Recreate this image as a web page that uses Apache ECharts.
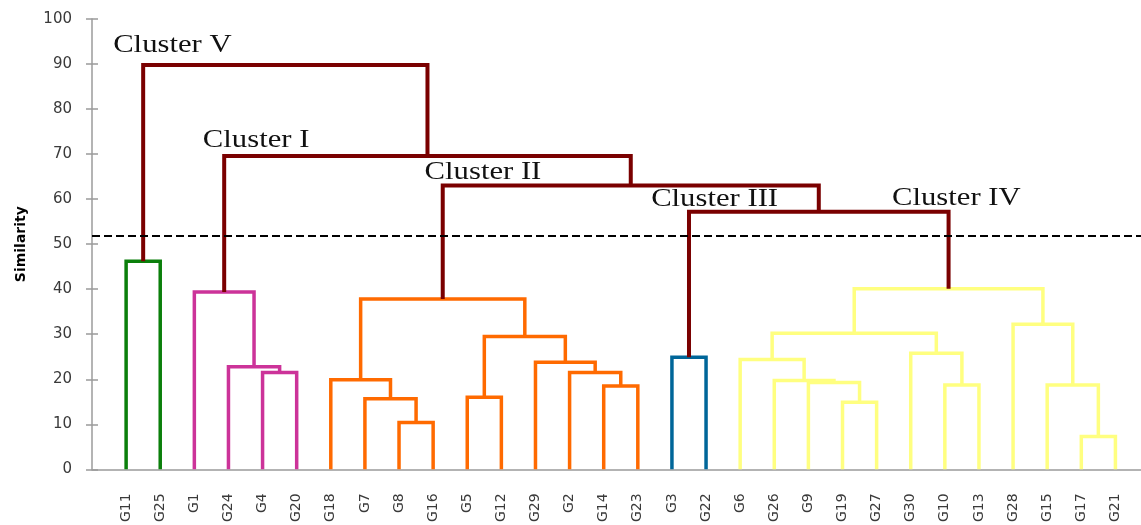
<!DOCTYPE html>
<html>
<head>
<meta charset="utf-8">
<script src="https://cdn.jsdelivr.net/npm/echarts@6/dist/echarts.min.js"></script>
<style>
  html, body { margin: 0; padding: 0; background: #fff; }
  #chart { width: 1141px; height: 525px; }
</style>
</head>
<body>
<div id="chart"></div>
<script>
// Leaf order along the x axis
const leaves = ['G11','G25','G1','G24','G4','G20','G18','G7','G8','G16','G5','G12','G29','G2','G14','G23',
                'G3','G22','G6','G26','G9','G19','G27','G30','G10','G13','G28','G15','G17','G21'];

// Merge steps: [id, left child, right child, similarity, group]
const greenMerges = [
  ['m1', 'G11', 'G25', 46.2, 'green']
];
const magentaMerges = [
  ['m2', 'G4', 'G20', 21.5, 'magenta'],
  ['m3', 'G24', 'm2', 22.8, 'magenta'],
  ['m4', 'G1', 'm3', 39.4, 'magenta']
];
const orangeMerges = [
  ['m5', 'G8', 'G16', 10.4, 'orange'],
  ['m6', 'G7', 'm5', 15.7, 'orange'],
  ['m7', 'G18', 'm6', 19.9, 'orange'],
  ['m8', 'G5', 'G12', 16.0, 'orange'],
  ['m9', 'G14', 'G23', 18.5, 'orange'],
  ['m10', 'G2', 'm9', 21.5, 'orange'],
  ['m11', 'G29', 'm10', 23.8, 'orange'],
  ['m12', 'm8', 'm11', 29.5, 'orange'],
  ['m13', 'm7', 'm12', 37.8, 'orange']
];
const blueMerges = [
  ['m14', 'G3', 'G22', 24.9, 'blue']
];
const yellowMerges = [
  ['m15', 'G19', 'G27', 14.9, 'yellow'],
  ['m16', 'G9', 'm15', 19.3, 'yellow'],
  ['m17', 'G26', 'm16', 19.7, 'yellow'],
  ['m18', 'G6', 'm17', 24.4, 'yellow'],
  ['m19', 'G10', 'G13', 18.7, 'yellow'],
  ['m20', 'G30', 'm19', 25.8, 'yellow'],
  ['m21', 'm18', 'm20', 30.2, 'yellow'],
  ['m22', 'G17', 'G21', 7.3, 'yellow'],
  ['m23', 'G15', 'm22', 18.7, 'yellow'],
  ['m24', 'G28', 'm23', 32.2, 'yellow'],
  ['m25', 'm21', 'm24', 40.1, 'yellow']
];
const topMerges = [
  ['m26', 'm14', 'm25', 57.2, 'top'],
  ['m27', 'm13', 'm26', 63.0, 'top'],
  ['m28', 'm4', 'm27', 69.6, 'top'],
  ['m29', 'm1', 'm28', 89.8, 'top']
];

// Similarity cut-off line
const cutOff = 51.8;

// Cluster captions: [text, leaf position of left edge, similarity at baseline]
const clusterLabels = [
  ['Cluster V', -0.38, 92.3],
  ['Cluster I', 2.25, 71.1],
  ['Cluster II', 8.75, 64.0],
  ['Cluster III', 15.39, 58.1],
  ['Cluster IV', 22.45, 58.4]
];

const yTicks = [0, 100, 10]; // min, max, step

const groupColors = {
  green: '#0b7f0b',
  magenta: '#cc3399',
  orange: '#ff6a00',
  blue: '#006699',
  yellow: '#ffff80',
  top: '#7a0000'
};

// Build link geometry from the merge list
const allMerges = [].concat(greenMerges, magentaMerges, orangeMerges, blueMerges, yellowMerges, topMerges);
const pos = {}, height = {};
leaves.forEach((name, i) => { pos[name] = i; height[name] = 0; });
const links = [];
allMerges.forEach(([id, a, b, h, g]) => {
  pos[id] = (pos[a] + pos[b]) / 2;
  height[id] = h;
  links.push({ value: [pos[a], height[a], pos[b], height[b], h], group: g });
});

const axisGray = '#9b9b9b';
const chart = echarts.init(document.getElementById('chart'));

chart.setOption({
  animation: false,
  backgroundColor: '#fff',
  grid: { left: 92, right: 0, top: 19, bottom: 54 },
  xAxis: {
    type: 'value',
    min: -1,
    max: 29.75,
    interval: 1,
    splitLine: { show: false },
    axisTick: { show: false },
    axisLine: { show: true, onZero: false, lineStyle: { color: axisGray, width: 1.5 } },
    axisLabel: {
      rotate: 90,
      margin: 24,
      fontFamily: 'DejaVu Sans',
      fontSize: 14,
      color: '#3a3a3a',
      showMinLabel: true,
      showMaxLabel: false,
      formatter: v => (Number.isInteger(v) && leaves[v]) ? leaves[v] : ''
    }
  },
  yAxis: [{
    type: 'value',
    min: yTicks[0],
    max: yTicks[1],
    interval: yTicks[2],
    name: 'Similarity',
    nameLocation: 'middle',
    nameGap: 64,
    nameTextStyle: { fontFamily: 'DejaVu Sans', fontSize: 14, fontWeight: 'bold', color: '#000' },
    splitLine: { show: false },
    axisLine: { show: true, onZero: false, lineStyle: { color: axisGray, width: 1.5 } },
    axisTick: { show: true, length: 6, lineStyle: { color: axisGray, width: 1.5 } },
    axisLabel: { margin: 20, fontFamily: 'DejaVu Sans', fontSize: 15, color: '#3a3a3a' }
  }, {
    // inner half of the crossing tick marks
    type: 'value',
    position: 'left',
    min: yTicks[0],
    max: yTicks[1],
    interval: yTicks[2],
    splitLine: { show: false },
    axisLine: { show: false, onZero: false },
    axisLabel: { show: false },
    axisTick: { show: true, inside: true, length: 6, lineStyle: { color: axisGray, width: 1.5 } }
  }],
  series: [{
    type: 'custom',
    xAxisIndex: 0,
    yAxisIndex: 0,
    data: links,
    clip: false,
    renderItem: function (params, api) {
      const link = links[params.dataIndex];
      const p1 = api.coord([api.value(0), api.value(1)]);
      const p2 = api.coord([api.value(0), api.value(4)]);
      const p3 = api.coord([api.value(2), api.value(4)]);
      const p4 = api.coord([api.value(2), api.value(3)]);
      return {
        type: 'polyline',
        shape: { points: [p1, p2, p3, p4] },
        style: {
          stroke: groupColors[link.group],
          lineWidth: link.group === 'top' ? 4 : 3.5,
          fill: null,
          lineJoin: 'miter'
        }
      };
    },
    markLine: {
      silent: true,
      symbol: 'none',
      label: { show: false },
      lineStyle: { color: '#000', width: 2, type: [8, 4] },
      data: [{ yAxis: cutOff }]
    }
  }]
});

// Cluster captions placed in data coordinates
const captionSize = 26;
chart.setOption({
  graphic: clusterLabels.map(([text, x, y]) => {
    const p = chart.convertToPixel({ xAxisIndex: 0, yAxisIndex: 0 }, [x, y]);
    return {
      type: 'text',
      x: p[0],
      y: p[1] - captionSize * 0.33,
      scaleX: 1.18,
      style: {
        text: text,
        font: captionSize + 'px "Liberation Serif"',
        fill: '#111',
        textAlign: 'left',
        textVerticalAlign: 'middle'
      },
      z: 100
    };
  })
});
</script>
</body>
</html>
